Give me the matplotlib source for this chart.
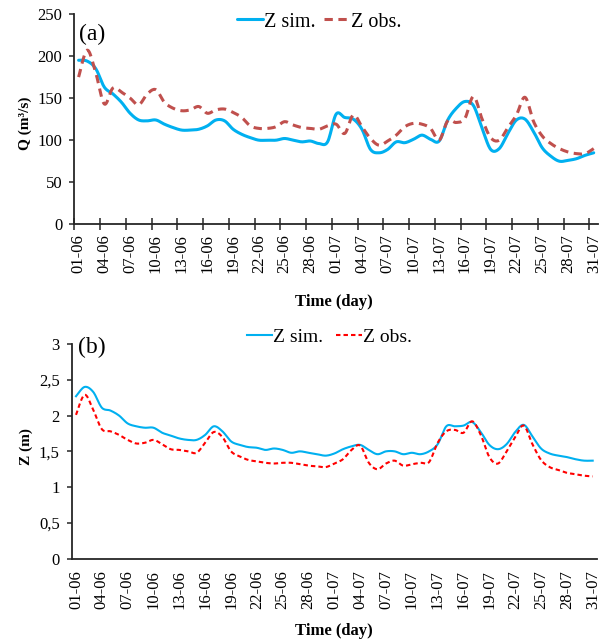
import matplotlib
matplotlib.use("Agg")
import matplotlib.pyplot as plt
import numpy as np

plt.rcParams['font.family'] = ['Liberation Serif', 'DejaVu Serif']
plt.rcParams['lines.scale_dashes'] = False

tick_labels = ['01-06', '04-06', '07-06', '10-06', '13-06', '16-06', '19-06', '22-06',
               '25-06', '28-06', '01-07', '04-07', '07-07', '10-07', '13-07', '16-07',
               '19-07', '22-07', '25-07', '28-07', '31-07']

q_sim = [195, 194, 185, 163, 155, 145, 132, 124, 123, 124,
         119, 115, 112, 112, 113, 117, 124, 123, 113, 107,
         103, 100, 100, 100, 102, 100, 98, 99, 96, 98,
         131, 127, 125, 113, 89, 85, 89, 98, 97, 101,
         106, 101, 99, 124, 138, 146, 141, 114, 89, 90,
         108, 124, 125, 110, 91, 81, 75, 76, 78, 82, 85]

q_obs = [175, 207, 180, 143, 162, 157, 150, 142, 155, 160,
         145, 138, 135, 136, 140, 132, 136, 137, 133, 127,
         117, 114, 114, 116, 122, 118, 115, 114, 113, 117,
         119, 108, 130, 116, 102, 94, 99, 106, 116, 120,
         119, 114, 100, 123, 121, 126, 152, 125, 103, 100,
         115, 130, 151, 122, 105, 96, 90, 86, 84, 84, 90]

z_sim = [2.27, 2.40, 2.33, 2.11, 2.07, 2.00, 1.89, 1.85, 1.83, 1.83,
         1.76, 1.72, 1.68, 1.66, 1.66, 1.73, 1.85, 1.78, 1.64, 1.59,
         1.56, 1.55, 1.52, 1.54, 1.52, 1.48, 1.50, 1.48, 1.46, 1.44,
         1.47, 1.53, 1.57, 1.59, 1.52, 1.46, 1.50, 1.50, 1.46, 1.48,
         1.46, 1.50, 1.60, 1.85, 1.85, 1.86, 1.91, 1.77, 1.59, 1.53,
         1.60, 1.77, 1.87, 1.71, 1.54, 1.47, 1.44, 1.42, 1.39, 1.37, 1.37]

z_obs = [2.01, 2.29, 2.08, 1.81, 1.78, 1.73, 1.66, 1.61, 1.62, 1.66,
         1.60, 1.53, 1.52, 1.50, 1.48, 1.62, 1.77, 1.70, 1.50, 1.43,
         1.38, 1.36, 1.34, 1.33, 1.34, 1.34, 1.32, 1.30, 1.29, 1.28,
         1.33, 1.39, 1.52, 1.58, 1.34, 1.25, 1.33, 1.37, 1.30, 1.32,
         1.34, 1.35, 1.62, 1.78, 1.80, 1.76, 1.92, 1.73, 1.42, 1.33,
         1.50, 1.70, 1.86, 1.60, 1.38, 1.28, 1.24, 1.20, 1.18, 1.16, 1.15]

q_ticks = [0, 50, 100, 150, 200, 250]
z_ticks = [0, 0.5, 1, 1.5, 2, 2.5, 3]
z_tick_labels = ['0', '0,5', '1', '1,5', '2', '2,5', '3']


def smooth(y, n=12):
    """Excel-like smoothed line (cubic Bezier / Catmull-Rom through the points)."""
    y = np.asarray(y, dtype=float)
    x = np.arange(len(y), dtype=float)
    xp = np.concatenate([[x[0]], x, [x[-1]]])
    yp = np.concatenate([[y[0]], y, [y[-1]]])
    xs, ys = [], []
    t = np.linspace(0, 1, n, endpoint=False)
    for i in range(len(y) - 1):
        p0x, p1x, p2x, p3x = xp[i], xp[i + 1], xp[i + 2], xp[i + 3]
        p0y, p1y, p2y, p3y = yp[i], yp[i + 1], yp[i + 2], yp[i + 3]
        c1x, c1y = p1x + (p2x - p0x) / 6, p1y + (p2y - p0y) / 6
        c2x, c2y = p2x - (p3x - p1x) / 6, p2y - (p3y - p1y) / 6
        b0, b1, b2, b3 = (1 - t) ** 3, 3 * t * (1 - t) ** 2, 3 * t ** 2 * (1 - t), t ** 3
        xs.append(b0 * p1x + b1 * c1x + b2 * c2x + b3 * p2x)
        ys.append(b0 * p1y + b1 * c1y + b2 * c2y + b3 * p2y)
    xs.append([x[-1]])
    ys.append([y[-1]])
    return np.concatenate(xs), np.concatenate(ys)


W, H = 607, 642
fig = plt.figure(figsize=(W / 100, H / 100), dpi=100)

def px_axes(left, top, right, bottom):
    return fig.add_axes([left / W, 1 - bottom / H, (right - left) / W, (bottom - top) / H])

n_days = len(q_sim)
tick_pos = np.arange(0, n_days, 3)

ax1 = px_axes(74.3, 14, 598, 224.3)
ax2 = px_axes(71.7, 344, 597, 558.7)

sim_blue = '#00B0F0'

l1, = ax1.plot(*smooth(q_sim), color=sim_blue, lw=2.2, solid_capstyle='round', solid_joinstyle='round', label='Z sim.')
l2, = ax1.plot(*smooth(q_obs), color='#C0504D', lw=2.2, dashes=(6, 4), label='Z obs.')
ax1.set_ylim(0, 250)
ax1.set_yticks(q_ticks)

l3, = ax2.plot(*smooth(z_sim), color=sim_blue, lw=1.5, label='Z sim.')
l4, = ax2.plot(*smooth(z_obs), color='#FF0000', lw=1.5, dashes=(3.2, 2.2), label='Z obs.')
ax2.set_ylim(0, 3)
ax2.set_yticks(z_ticks)
ax2.set_yticklabels(z_tick_labels)

for ax in (ax1, ax2):
    ax.set_xlim(-0.5, n_days - 0.5)
    ax.set_xticks(tick_pos)
    ax.set_xticklabels(tick_labels, rotation=90, fontsize=12)
    for s in ('top', 'right'):
        ax.spines[s].set_visible(False)
    for s in ('left', 'bottom'):
        ax.spines[s].set_linewidth(1.3)
        ax.spines[s].set_color('#262626')
    ax.tick_params(axis='y', labelsize=12, length=3.6, width=1.1, pad=5, color='#262626')
    ax.set_facecolor('none')

ax1.set_xticks(np.arange(-0.5, n_days - 1, 3), minor=True)
ax1.tick_params(axis='x', which='major', length=0, pad=7)
ax1.tick_params(axis='x', which='minor', direction='inout', length=8, width=1.1, color='#262626')
ax2.tick_params(axis='x', which='major', length=0, pad=8)

ax1.legend(handles=[l1, l2], loc='center', bbox_to_anchor=(319 / W, 1 - 22 / H),
           bbox_transform=fig.transFigure, ncol=2, frameon=False, fontsize=14.5,
           handlelength=1.3, handletextpad=0.05, columnspacing=0.4, borderpad=0)
ax2.legend(handles=[l3, l4], loc='center', bbox_to_anchor=(329 / W, 1 - 337 / H),
           bbox_transform=fig.transFigure, ncol=2, frameon=False, fontsize=14,
           handlelength=1.3, handletextpad=0.05, columnspacing=0.7, borderpad=0)

fig.text(92 / W, 1 - 34 / H, '(a)', fontsize=17, ha='center', va='center')
fig.text(92 / W, 1 - 347 / H, '(b)', fontsize=17, ha='center', va='center')

fig.text(25 / W, 1 - 123 / H, 'Q (m³/s)', fontsize=11, fontweight='bold', rotation=90, ha='center', va='center')
fig.text(26 / W, 1 - 447 / H, 'Z (m)', fontsize=11, fontweight='bold', rotation=90, ha='center', va='center')

fig.text(334 / W, 1 - 302 / H, 'Time (day)', fontsize=12, fontweight='bold', ha='center', va='center')
fig.text(334 / W, 1 - 631 / H, 'Time (day)', fontsize=12, fontweight='bold', ha='center', va='center')

fig.savefig('out.png', dpi=100, facecolor='white')
